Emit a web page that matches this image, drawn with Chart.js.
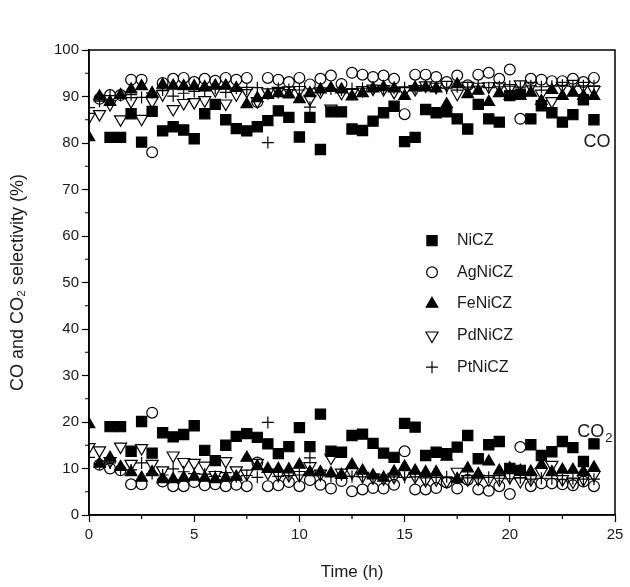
<!DOCTYPE html>
<html>
<head>
<meta charset="utf-8">
<script src="https://cdn.jsdelivr.net/npm/chart.js@4"></script>
<style>
  html, body { margin: 0; padding: 0; background: #fff; }
  #wrap { width: 630px; height: 587px; }
</style>
</head>
<body>
<div id="wrap"><canvas id="selectivityChart" width="630" height="587"></canvas></div>
<script>
// time on stream (h), one sample every half hour
const hours = [0, 0.5, 1, 1.5, 2, 2.5, 3, 3.5, 4, 4.5, 5, 5.5, 6, 6.5, 7, 7.5, 8, 8.5, 9, 9.5,
  10, 10.5, 11, 11.5, 12, 12.5, 13, 13.5, 14, 14.5, 15, 15.5, 16, 16.5, 17, 17.5, 18, 18.5, 19, 19.5,
  20, 20.5, 21, 21.5, 22, 22.5, 23, 23.5, 24];

const catalysts = ['NiCZ', 'AgNiCZ', 'FeNiCZ', 'PdNiCZ', 'PtNiCZ'];

// CO selectivity (%)
const coNi = [null, null, 81.2, 81.2, 86.3, 80.2, 86.8, 82.6, 83.5, 82.8, 80.9, 86.3, 88.3, 85, 83.1, 82.6, 83.5, 84.8, 86.9, 85.5,
  81.3, 85.5, 78.6, 86.7, 86.7, 83, 82.7, 84.7, 86.5, 87.9, 80.3, 81.2, 87.2, 86.5, 86.7, 85.2, 83, 88.3, 85.2, 84.5,
  90.2, 90.5, 85.2, 88, 86.5, 84.5, 86.1, 89.3, 85];
const coAg = [null, 89.5, 90.3, 90.3, 93.6, 93.6, 78, 92.9, 93.8, 94, 93.1, 93.8, 93.4, 94, 93.6, 94, 88.8, 94, 93.6, 93.1,
  94, 92.6, 93.8, 94.5, 92.7, 95.1, 94.7, 94.2, 94.5, 93.8, 86.2, 94.7, 94.7, 94.2, 93.1, 94.5, 92.4, 94.7, 95.1, 93.8,
  95.8, 85.2, 93.8, 93.6, 93.3, 93.3, 93.8, 93.1, 94];
const coFe = [81.2, 90, 88.8, 90.3, 91.5, 92.2, 90.7, 92.5, 92.3, 92.2, 92.2, 92, 92.3, 92.3, 91.8, 88.3, 89.6, 90.3, 90.7, 90.4,
  89.4, 90.7, 91.5, 91.8, 91.5, 90, 90.7, 91.7, 92, 91.7, 90.1, 91.9, 91.9, 91.7, 88.3, 92.6, 90.5, 91.2, 88.8, 90.7,
  90.1, 90.1, 90.8, 89, 91.4, 90.1, 90.8, 90.1, 90.1];
const coPd = [85.6, 86.2, 88.4, 85.1, 89, 85.2, 89, 90.5, 87.3, 88.6, 88.8, 89.2, 91.4, 88.5, 90.5, 91.2, 89, 90.9, 91.2, 91.3,
  91.4, 89.5, 91.1, 87.4, 90.8, 90.8, 91.4, 91.7, 91.6, 91, 91.3, 91.6, 92.4, 92.1, 92.5, 90.6, 92.3, 92.1, 92.2, 92.2,
  91.8, 92.6, 92.3, 90.6, 89, 92.3, 92.7, 92.3, 91.4];
const coPt = [87.6, 89, 90.2, 90.2, 90.4, 89.8, 90.8, 91.4, 90.1, 90.7, 91.1, 91.2, 91.8, 90.9, 91.8, 91.5, 91.9, 80.1, 91.7, 91.5,
  91.4, 87.7, 91.5, 91.6, 91.4, 91.7, 91.8, 91.9, 91.7, 91.8, 91.9, 91.8, 92, 91.9, 91.8, 92.1, 92, 92.2, 91.9, 92.1,
  92.2, 92, 92.3, 92.1, 92.2, 92.4, 92.2, 92.3, 92.3];

// CO2 selectivity (%)
const co2Ni = [null, null, 19, 19, 13.7, 20.1, 13.3, 17.7, 16.8, 17.3, 19.2, 13.9, 11.7, 15, 16.9, 17.5, 16.7, 15.3, 13.2, 14.7,
  18.8, 14.7, 21.7, 13.7, 13.5, 17.1, 17.4, 15.4, 13.3, 12.4, 19.7, 18.9, 12.8, 13.5, 13.2, 14.6, 17.1, 12.1, 15.1, 15.8,
  10, 9.6, 15.1, 12.8, 13.6, 15.8, 14.5, 11.5, 15.3];
const co2Ag = [null, 10.8, 10, 9.6, 6.6, 6.6, 22, 7.2, 6.2, 6.2, 7.1, 6.4, 6.6, 6.2, 6.5, 6.2, 11.3, 6.2, 6.4, 7.1,
  6.2, 7.5, 6.5, 5.7, 7.3, 5.1, 5.5, 5.8, 5.7, 6.5, 13.7, 5.5, 5.5, 5.8, 7, 5.7, 7.6, 5.5, 5.2, 6.2,
  4.5, 14.6, 6.2, 6.8, 6.8, 6.6, 6.4, 7.2, 6.2];
const co2Fe = [19.5, 11, 12.3, 10.3, 9.2, 8, 9.2, 7.7, 7.7, 8, 8.2, 8, 7.7, 8, 8.2, 12.3, 10.5, 9.9, 9.9, 9.8,
  10.8, 9.2, 9.2, 8.9, 8.6, 10.8, 9.5, 8.5, 8, 9.3, 10.4, 9.5, 9.2, 9.2, 12.5, 7.7, 10, 8.8, 11.5, 9.5,
  10, 9.5, 9.3, 10.8, 9.2, 9.7, 9.7, 9.3, 10.2];
const co2Pd = [14.6, 13.9, 11.6, 14.7, 11, 14.4, 11, 9.6, 12.8, 11.4, 11.2, 10.6, 8.6, 11.6, 9.6, 8.9, 11.2, 9.1, 8.7, 8.6,
  8.6, 10.5, 8.9, 12.3, 9.1, 9.2, 8.4, 8.1, 7.9, 8.2, 8.8, 8.3, 7.5, 7.7, 7.3, 9.3, 7.7, 7.8, 7.7, 7.7,
  8.2, 7.3, 7.7, 9.3, 10.8, 7.7, 7.2, 7.7, 8.6];
const co2Pt = [12.4, 11, 11.2, 9.8, 9.7, 11.2, 8.9, 8.6, 9.9, 9.3, 8.9, 8.8, 8.3, 9.1, 8.2, 8.5, 8.1, 19.9, 8.3, 8.5,
  8.6, 12.3, 8.5, 8.4, 8.6, 8.3, 8.2, 8.1, 8.3, 8.2, 8.1, 8.2, 8, 8.1, 8.2, 7.9, 8, 7.8, 8.1, 7.9,
  7.8, 8, 7.7, 7.9, 7.8, 7.6, 7.8, 7.7, 7.7];

const xTicks = [0, 5, 10, 15, 20, 25];
const yTicks = [0, 10, 20, 30, 40, 50, 60, 70, 80, 90, 100];

const FONT = "'Liberation Sans', Arial, sans-serif";
const INK = '#1a1a1a';

function toPoints(co, co2) {
    const pts = [];
    hours.forEach((h, i) => {
        if (co[i] !== null) pts.push({ x: h, y: co[i] });
    });
    hours.forEach((h, i) => {
        if (co2[i] !== null) pts.push({ x: h, y: co2[i] });
    });
    return pts;
}

// marker look for each catalyst
const markers = [
    { pointStyle: 'rect', radius: 7.2, rotation: 0, fill: '#000' },
    { pointStyle: 'circle', radius: 5.4, rotation: 0, fill: 'rgba(0,0,0,0)' },
    { pointStyle: 'triangle', radius: 6.7, rotation: 0, fill: '#000' },
    { pointStyle: 'triangle', radius: 7, rotation: 180, fill: 'rgba(0,0,0,0)' },
    { pointStyle: 'cross', radius: 6, rotation: 0, fill: 'rgba(0,0,0,0)' }
];

const series = [
    [coNi, co2Ni], [coAg, co2Ag], [coFe, co2Fe], [coPd, co2Pd], [coPt, co2Pt]
];

const datasets = catalysts.map((name, i) => ({
    label: name,
    data: toPoints(series[i][0], series[i][1]),
    showLine: false,
    pointStyle: markers[i].pointStyle,
    pointRadius: markers[i].radius,
    pointRotation: markers[i].rotation,
    pointBackgroundColor: markers[i].fill,
    pointBorderColor: '#000',
    pointBorderWidth: 1.2,
    pointHoverRadius: markers[i].radius
}));

// draw one marker by hand for the in-plot legend
function drawMarker(ctx, m, x, y) {
    ctx.save();
    ctx.lineWidth = 1.2;
    ctx.strokeStyle = '#000';
    ctx.fillStyle = m.fill;
    ctx.beginPath();
    const r = m.radius;
    if (m.pointStyle === 'rect') {
        const s = r * Math.SQRT1_2;
        ctx.rect(x - s, y - s, 2 * s, 2 * s);
    } else if (m.pointStyle === 'circle') {
        ctx.arc(x, y, r, 0, Math.PI * 2);
    } else if (m.pointStyle === 'triangle') {
        const dir = m.rotation === 180 ? -1 : 1;
        ctx.moveTo(x, y - dir * r);
        ctx.lineTo(x + Math.sin(Math.PI * 2 / 3) * r, y + dir * r / 2);
        ctx.lineTo(x - Math.sin(Math.PI * 2 / 3) * r, y + dir * r / 2);
        ctx.closePath();
    } else if (m.pointStyle === 'cross') {
        ctx.moveTo(x - r, y); ctx.lineTo(x + r, y);
        ctx.moveTo(x, y - r); ctx.lineTo(x, y + r);
    }
    ctx.fill();
    ctx.stroke();
    ctx.restore();
}

const decorations = {
    id: 'decorations',
    afterDraw(chart) {
        const { ctx, chartArea: area, scales: { x, y } } = chart;
        ctx.save();

        // frame
        ctx.strokeStyle = '#000';
        ctx.lineWidth = 1.5;
        ctx.strokeRect(area.left, area.top, area.right - area.left, area.bottom - area.top);

        // minor ticks
        ctx.lineWidth = 1.2;
        ctx.beginPath();
        for (let v = 2.5; v < 25; v += 5) {
            const px = x.getPixelForValue(v);
            ctx.moveTo(px, area.bottom);
            ctx.lineTo(px, area.bottom + 4);
        }
        for (let v = 5; v < 100; v += 10) {
            const py = y.getPixelForValue(v);
            ctx.moveTo(area.left, py);
            ctx.lineTo(area.left - 4, py);
        }
        ctx.stroke();

        // CO / CO2 labels
        ctx.fillStyle = INK;
        ctx.font = `18px ${FONT}`;
        ctx.textBaseline = 'middle';
        ctx.textAlign = 'left';
        ctx.fillText('CO', x.getPixelForValue(23.5), y.getPixelForValue(80.2));
        const cx = x.getPixelForValue(23.2);
        const cy = y.getPixelForValue(17.8);
        ctx.fillText('CO', cx, cy);
        const w = ctx.measureText('CO').width;
        ctx.font = `13px ${FONT}`;
        ctx.fillText('2', cx + w + 1, cy + 6);

        // legend
        ctx.font = `16px ${FONT}`;
        catalysts.forEach((name, i) => {
            const ly = y.getPixelForValue(59 - i * 6.8);
            drawMarker(ctx, markers[i], 432, ly);
            ctx.fillStyle = INK;
            ctx.fillText(name, 457, ly);
        });
        ctx.restore();
    }
};

new Chart(document.getElementById('selectivityChart'), {
    type: 'scatter',
    data: { datasets },
    options: {
        responsive: false,
        animation: false,
        layout: { padding: { left: 0, right: 15, top: 50, bottom: 0 } },
        plugins: {
            legend: { display: false },
            tooltip: { enabled: false }
        },
        scales: {
            x: {
                type: 'linear',
                min: 0,
                max: 25,
                afterBuildTicks: scale => { scale.ticks = xTicks.map(v => ({ value: v })); },
                afterFit: scale => { scale.height = 72; },
                ticks: {
                    color: INK,
                    font: { family: FONT, size: 15 },
                    padding: 4,
                    maxRotation: 0
                },
                grid: { drawOnChartArea: false, drawTicks: true, tickLength: 7, tickColor: '#000', tickWidth: 1.2 },
                border: { display: true, color: '#000', width: 1.5 },
                title: {
                    display: true,
                    text: 'Time (h)',
                    color: INK,
                    font: { family: FONT, size: 17 },
                    padding: { top: 0, bottom: 4 }
                }
            },
            y: {
                type: 'linear',
                min: 0,
                max: 100,
                afterBuildTicks: scale => { scale.ticks = yTicks.map(v => ({ value: v })); },
                afterFit: scale => { scale.width = 89; },
                ticks: {
                    color: INK,
                    font: { family: FONT, size: 15 },
                    padding: 3
                },
                grid: { drawOnChartArea: false, drawTicks: true, tickLength: 7, tickColor: '#000', tickWidth: 1.2 },
                border: { display: true, color: '#000', width: 1.5 },
                title: {
                    display: true,
                    text: 'CO and CO₂ selectivity (%)',
                    color: INK,
                    font: { family: FONT, size: 18 },
                    padding: { top: 7, bottom: 0 }
                }
            }
        }
    },
    plugins: [decorations]
});
</script>
</body>
</html>
